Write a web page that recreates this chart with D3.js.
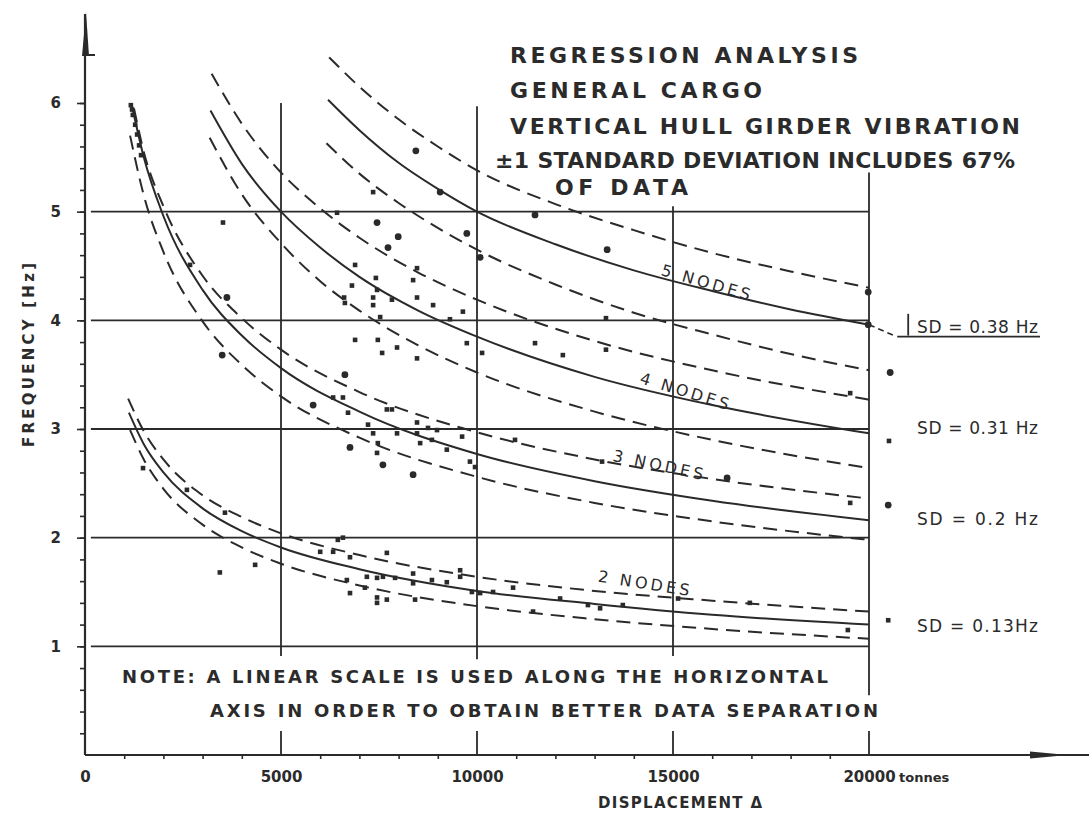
<!DOCTYPE html>
<html>
<head>
<meta charset="utf-8">
<script src="https://cdn.jsdelivr.net/npm/d3@7/dist/d3.min.js"></script>
<style>
  body { margin: 0; background: #fff; }
  text { font-family: "DejaVu Sans", sans-serif; fill: #2b2b2b; }
</style>
</head>
<body>
<svg id="chart" width="1089" height="817"></svg>
<script>
// Regression curves, [displacement (t), frequency (Hz)]
const n2Upper = [[1100,3.28],[1500,2.98],[2000,2.72],[3000,2.39],[4000,2.19],[5000,2.04],[7000,1.84],[10000,1.64],[13000,1.51],[16000,1.42],[20000,1.32]];
const n2Mean  = [[1120,3.15],[1500,2.86],[2000,2.60],[3000,2.27],[4000,2.06],[5000,1.91],[7000,1.71],[10000,1.51],[13000,1.39],[16000,1.29],[20000,1.20]];
const n2Lower = [[1150,2.99],[1500,2.72],[2000,2.45],[3000,2.12],[4000,1.91],[5000,1.76],[7000,1.56],[10000,1.37],[13000,1.25],[16000,1.16],[20000,1.07]];

const n3Upper = [[1250,5.95],[1500,5.55],[2000,5.05],[3000,4.41],[4000,4.02],[5000,3.73],[7000,3.34],[10000,2.97],[13000,2.72],[16000,2.54],[20000,2.36]];
const n3Mean  = [[1200,5.97],[1500,5.50],[2000,4.96],[3000,4.28],[4000,3.86],[5000,3.56],[7000,3.16],[10000,2.77],[13000,2.52],[16000,2.34],[20000,2.16]];
const n3Lower = [[1150,5.70],[1500,5.15],[2000,4.63],[3000,3.99],[4000,3.59],[5000,3.30],[7000,2.92],[10000,2.56],[13000,2.32],[16000,2.15],[20000,1.98]];

const n4Upper = [[3230,6.27],[4000,5.81],[5000,5.36],[6000,5.03],[7000,4.76],[8500,4.44],[10000,4.19],[13000,3.81],[16000,3.54],[20000,3.27]];
const n4Mean  = [[3200,5.93],[4000,5.44],[5000,5.00],[6000,4.67],[7000,4.40],[8500,4.09],[10000,3.85],[13000,3.48],[16000,3.22],[20000,2.96]];
const n4Lower = [[3180,5.68],[4000,5.16],[5000,4.71],[6000,4.36],[7000,4.09],[8500,3.77],[10000,3.52],[13000,3.16],[16000,2.90],[20000,2.64]];

const n5Upper = [[6230,6.42],[7000,6.15],[8000,5.85],[9000,5.60],[10000,5.38],[12000,5.07],[14000,4.83],[16000,4.62],[18000,4.45],[20000,4.30]];
const n5Mean  = [[6200,6.03],[7000,5.75],[8000,5.45],[9000,5.21],[10000,5.00],[12000,4.70],[14000,4.46],[16000,4.27],[18000,4.10],[20000,3.96]];
const n5Lower = [[6160,5.63],[7000,5.35],[8000,5.08],[9000,4.85],[10000,4.65],[12000,4.33],[14000,4.07],[16000,3.87],[18000,3.69],[20000,3.54]];

// measured ships: round dots and small square marks
const dotPoints = [
  [8440,5.56],[9060,5.18],[7450,4.90],[7990,4.77],[7730,4.67],[9740,4.80],[10080,4.58],
  [11480,4.97],[13320,4.65],[19980,4.26],[19980,3.96],[20540,3.52],[20490,2.30],[16380,2.55],
  [3500,3.68],[3620,4.21],[6630,3.50],[5820,3.22],[6760,2.83],[7600,2.67],[8370,2.58]
];
const squarePoints = [
  [1170,5.98],[1200,5.94],[1220,5.89],[1280,5.80],[1330,5.71],[1380,5.61],[1430,5.52],
  [2680,4.51],[3520,4.90],[6430,4.99],[7350,5.18],[6890,4.51],[7420,4.39],[6810,4.32],
  [7450,4.28],[7350,4.21],[6610,4.21],[6630,4.16],[7350,4.14],[7830,4.19],[7530,4.03],
  [8470,4.48],[8370,4.37],[8470,4.21],[8880,4.14],[9310,4.01],[9640,4.08],[6890,3.82],
  [7470,3.82],[7580,3.70],[7960,3.75],[8470,3.65],[9740,3.79],[10130,3.70],[11480,3.79],
  [12190,3.68],[13290,4.02],[13290,3.73],[19520,3.33],[20510,2.89],[19520,2.32],[13190,2.70],
  [10970,2.90],
  [6330,3.29],[6580,3.29],[6710,3.15],[7700,3.18],[7830,3.18],[7220,3.04],[7350,2.96],
  [7470,2.87],[7960,2.96],[8470,3.06],[8470,2.96],[8550,2.87],[8750,3.01],[8980,2.99],
  [8850,2.90],[9230,2.81],[9620,2.93],[9820,2.70],[9950,2.65],[7450,2.78],
  [1480,2.64],[2600,2.44],[3570,2.23],[3440,1.68],[4340,1.75],[6000,1.87],[6330,1.87],
  [6450,1.98],[6580,2.00],[6760,1.82],[7700,1.86],[7910,1.63],[6680,1.61],[7190,1.64],
  [7450,1.63],[7600,1.64],[6760,1.49],[7140,1.54],[7450,1.45],[7450,1.40],[7700,1.43],
  [8370,1.67],[8370,1.58],[8420,1.43],[8850,1.61],[9230,1.59],[9570,1.70],[9570,1.64],
  [9870,1.50],[10080,1.49],[10410,1.50],[10920,1.54],[11430,1.32],[12120,1.44],[12830,1.38],
  [13140,1.35],[13720,1.38],[15130,1.44],[16960,1.40],[19460,1.15],[20490,1.24]
];

const gridFreqs = [1, 2, 3, 4, 5];
const gridDisp = [5000, 10000, 15000, 20000];
const gridDispSpan = [[0.91, 6.0], [0.88, 5.97], [0.91, 5.05], [0.55, 5.36]]; // Hz extent of each vertical line
const xTickLabels = ["0", "5000", "10000", "15000", "20000"];
const yTickLabels = ["1", "2", "3", "4", "5", "6"];

const titleLines = ["REGRESSION ANALYSIS", "GENERAL CARGO", "VERTICAL HULL GIRDER VIBRATION",
                    "\u00b11 STANDARD DEVIATION INCLUDES 67%", "OF DATA"];
const noteLines = ["NOTE:  A  LINEAR  SCALE  IS  USED  ALONG  THE  HORIZONTAL",
                   "AXIS  IN  ORDER  TO  OBTAIN  BETTER  DATA  SEPARATION"];
const sdLabels = ["SD = 0.38 Hz", "SD = 0.31 Hz", "SD = 0.2 Hz", "SD = 0.13Hz"];
const nodeLabels = ["5 NODES", "4 NODES", "3 NODES", "2 NODES"];

const ink = "#2a2a2a";
const svg = d3.select("#chart");
svg.append("rect").attr("width", 1089).attr("height", 817).attr("fill", "#fff");

const x = d3.scaleLinear().domain([0, 20000]).range([85, 869]);
const y = d3.scaleLinear().domain([0, 6]).range([755, 103]);

// Grid
const grid = svg.append("g").attr("stroke", ink).attr("stroke-width", 1.8);
grid.selectAll("line.h").data(gridFreqs).enter().append("line")
    .attr("x1", x(150)).attr("x2", x(20000))
    .attr("y1", d => y(d)).attr("y2", d => y(d));
grid.selectAll("line.v").data(gridDisp).enter().append("line")
    .attr("x1", d => x(d)).attr("x2", d => x(d))
    .attr("y1", (d, i) => y(gridDispSpan[i][0])).attr("y2", (d, i) => y(gridDispSpan[i][1]));
// tall ticks on the x axis
grid.selectAll("line.t").data(gridDisp).enter().append("line")
    .attr("x1", d => x(d)).attr("x2", d => x(d))
    .attr("y1", y(0)).attr("y2", y(0.22));

// Axes
const yMinor = d3.axisLeft(y).tickValues(d3.range(0.2, 6.01, 0.2)).tickSize(5).tickFormat("");
const yMajor = d3.axisLeft(y).tickValues([1, 2, 3, 4, 5, 6]).tickSize(8).tickPadding(16)
    .tickFormat((d, i) => yTickLabels[i]);
const xMinor = d3.axisBottom(x).tickValues(d3.range(1000, 20000, 1000).filter(d => d % 5000)).tickSize(4).tickFormat("");
const xMajor = d3.axisBottom(x).tickValues([0, 5000, 10000, 15000, 20000]).tickSize(0).tickPadding(16)
    .tickFormat((d, i) => xTickLabels[i]);

[yMinor, yMajor].forEach(a => svg.append("g").attr("transform", `translate(${x(0)},0)`).call(a));
[xMinor, xMajor].forEach(a => svg.append("g").attr("transform", `translate(0,${y(0)})`).call(a));
svg.selectAll(".domain").remove();
svg.selectAll(".tick line").attr("stroke", ink).attr("stroke-width", 1.6);
svg.selectAll(".tick text").attr("fill", ink).style("font-size", "15px").style("font-weight", "bold")
    .style("font-family", "DejaVu Sans, sans-serif");

// axis lines with arrows
svg.append("line").attr("x1", x(0)).attr("x2", x(0)).attr("y1", y(0)).attr("y2", 14)
    .attr("stroke", ink).attr("stroke-width", 2.2);
svg.append("path").attr("d", `M${x(0) - 3},56 L${x(0) + 4},56 L${x(0) + 1},12 Z`).attr("fill", ink);
svg.append("path").attr("d", `M${x(0)},55 L${x(0) + 10},55`).attr("stroke", ink).attr("stroke-width", 2);
svg.append("line").attr("x1", x(0)).attr("x2", 1089).attr("y1", y(0)).attr("y2", y(0))
    .attr("stroke", ink).attr("stroke-width", 2.2);
svg.append("path").attr("d", `M1030,${y(0) - 3.5} L1030,${y(0) + 3.5} L1068,${y(0)} Z`).attr("fill", ink);

// Curves
const line = d3.line().x(d => x(d[0])).y(d => y(d[1])).curve(d3.curveMonotoneX);
const curveSets = [
  [n2Upper, true], [n2Mean, false], [n2Lower, true],
  [n3Upper, true], [n3Mean, false], [n3Lower, true],
  [n4Upper, true], [n4Mean, false], [n4Lower, true],
  [n5Upper, true], [n5Mean, false], [n5Lower, true]
];
svg.append("g").selectAll("path").data(curveSets).enter().append("path")
    .attr("d", d => line(d[0]))
    .attr("fill", "none").attr("stroke", ink).attr("stroke-width", 2)
    .attr("stroke-dasharray", d => d[1] ? "14,8" : null);

// Data marks
svg.append("g").selectAll("circle").data(dotPoints).enter().append("circle")
    .attr("cx", d => x(d[0])).attr("cy", d => y(d[1])).attr("r", 3.4).attr("fill", ink);
svg.append("g").selectAll("rect").data(squarePoints).enter().append("rect")
    .attr("x", d => x(d[0]) - 2.3).attr("y", d => y(d[1]) - 2.3)
    .attr("width", 4.6).attr("height", 4.6).attr("fill", ink);

// SD bracket for the 5-node band
svg.append("path").attr("d", line([[20000, 3.96], [20700, 3.85]]))
    .attr("fill", "none").attr("stroke", ink).attr("stroke-width", 1.6).attr("stroke-dasharray", "6,4");
svg.append("line").attr("x1", x(20720)).attr("x2", 1040).attr("y1", y(3.85)).attr("y2", y(3.85))
    .attr("stroke", ink).attr("stroke-width", 1.6);
svg.append("line").attr("x1", x(21000)).attr("x2", x(21000)).attr("y1", y(4.06)).attr("y2", y(3.86))
    .attr("stroke", ink).attr("stroke-width", 1.8);

// Title block
const titleX = [510, 510, 510, 495, 555];
const titleY = [63, 98, 134, 168, 195];
const titleW = [348, 252, 510, 520, 133];
svg.append("g").selectAll("text").data(titleLines).enter().append("text")
    .attr("x", (d, i) => titleX[i]).attr("y", (d, i) => titleY[i])
    .attr("textLength", (d, i) => titleW[i]).attr("lengthAdjust", "spacing")
    .style("font-size", "22px").style("font-weight", "bold")
    .text(d => d);

// Note
const noteX = [122, 210], noteY = [683, 717], noteW = [706, 668];
svg.append("g").selectAll("text").data(noteLines).enter().append("text")
    .attr("x", (d, i) => noteX[i]).attr("y", (d, i) => noteY[i])
    .attr("textLength", (d, i) => noteW[i]).attr("lengthAdjust", "spacing")
    .style("font-size", "18px").style("font-weight", "bold")
    .text(d => d);

// SD labels
const sdY = [333, 434, 525, 632];
svg.append("g").selectAll("text").data(sdLabels).enter().append("text")
    .attr("x", 917).attr("y", (d, i) => sdY[i])
    .attr("textLength", 121).attr("lengthAdjust", "spacing")
    .style("font-size", "17px")
    .text(d => d);

// Node labels along the curves
const nodePos = [[15800, 4.30, 16], [15255, 3.30, 17], [14590, 2.62, 12], [14235, 1.53, 9]];
svg.append("g").selectAll("text").data(nodeLabels).enter().append("text")
    .attr("transform", (d, i) => `translate(${x(nodePos[i][0])},${y(nodePos[i][1])}) rotate(${nodePos[i][2]})`)
    .attr("text-anchor", "middle")
    .attr("textLength", 92).attr("lengthAdjust", "spacing")
    .style("font-size", "16px")
    .text(d => d);

// Axis titles
svg.append("text").attr("x", 899).attr("y", 782).style("font-size", "13px").style("font-weight", "bold")
    .text("tonnes");
svg.append("text").attr("x", 598).attr("y", 808).attr("textLength", 164).attr("lengthAdjust", "spacing")
    .style("font-size", "15px").style("font-weight", "bold").text("DISPLACEMENT \u0394");
svg.append("text").attr("transform", "translate(34,447) rotate(-90)")
    .attr("textLength", 184).attr("lengthAdjust", "spacing")
    .style("font-size", "15px").style("font-weight", "bold").text("FREQUENCY [Hz]");
</script>
</body>
</html>
